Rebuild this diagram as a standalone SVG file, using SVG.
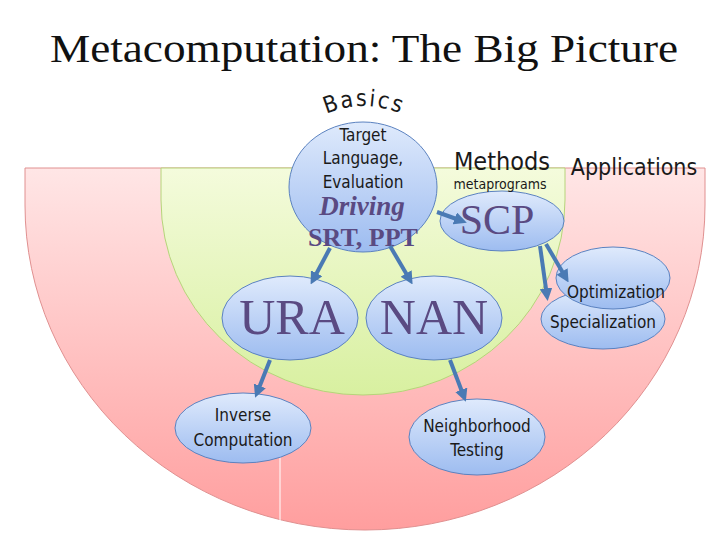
<svg xmlns="http://www.w3.org/2000/svg" width="720" height="540" viewBox="0 0 720 540">
<defs>
<linearGradient id="red" x1="0" y1="0" x2="0" y2="1"><stop offset="0" stop-color="#ffe6e6"/><stop offset="1" stop-color="#ff9e9e"/></linearGradient>
<linearGradient id="grn" x1="0" y1="0" x2="0" y2="1"><stop offset="0" stop-color="#f4fbdc"/><stop offset="1" stop-color="#d8f0a0"/></linearGradient>
<linearGradient id="blu" x1="0" y1="0" x2="0" y2="1"><stop offset="0" stop-color="#dfeafc"/><stop offset="1" stop-color="#9dbcf0"/></linearGradient>
<marker id="ah" viewBox="0 0 10 10" refX="6" refY="5" markerWidth="3.2" markerHeight="3.2" orient="auto"><path d="M0,0 L10,5 L0,10 Z" fill="#4a7ab4"/></marker>
<style>
.n{fill:url(#blu);stroke:#5b82c0;stroke-width:1}
.t{font-family:"DejaVu Sans Condensed","DejaVu Sans",sans-serif;fill:#1a1a1a;text-anchor:middle}
.b{font-family:"Liberation Serif",serif;fill:#5a4a82;text-anchor:middle}
.c line{stroke:#4a7ab4;stroke-width:4;marker-end:url(#ah)}
</style>
</defs>
<rect width="720" height="540" fill="#fff"/>
<text x="364" y="62" font-family="Liberation Serif,serif" font-size="40" text-anchor="middle" textLength="628" lengthAdjust="spacingAndGlyphs" fill="#111">Metacomputation: The Big Picture</text>
<g id="applications">
<path d="M25,168 H705 V205 A340,325 0 0 1 25,205 Z" fill="url(#red)" stroke="#e09090" stroke-width="1"/>
<line x1="280" y1="400" x2="280" y2="528" stroke="#fff" stroke-width="1"/>
<text x="634" y="175" class="t" font-size="23">Applications</text>
</g>
<g id="methods">
<path d="M161,168 H565 V200 A202,195 0 0 1 161,200 Z" fill="url(#grn)" stroke="#b6d47a" stroke-width="1"/>
<text x="502" y="170" class="t" font-size="25">Methods</text>
</g>
<g id="basics">
<ellipse cx="363" cy="187" rx="74" ry="65" class="n"/>
<path id="arc" d="M322,116 Q363,96 406,116" fill="none"/>
<text class="t" font-size="23"><textPath href="#arc" startOffset="50%" letter-spacing="2">Basics</textPath></text>
<text x="363" y="141" class="t" font-size="17">Target</text>
<text x="363" y="164" class="t" font-size="17">Language,</text>
<text x="363" y="188" class="t" font-size="17">Evaluation</text>
<text x="362" y="215" class="b" font-size="27" font-weight="bold" font-style="italic">Driving</text>
<text x="363" y="246" class="b" font-size="26" font-weight="bold">SRT, PPT</text>
</g>
<g id="scp"><ellipse cx="502" cy="221" rx="62" ry="30" class="n"/><text x="497" y="234" class="b" font-size="42">SCP</text>
<text x="500" y="189" class="t" font-size="14">metaprograms</text></g>
<g id="ura"><ellipse cx="290" cy="318" rx="68" ry="42" class="n"/><text x="292" y="334" class="b" font-size="50">URA</text></g>
<g id="nan"><ellipse cx="434" cy="318" rx="68" ry="42" class="n"/><text x="434" y="334" class="b" font-size="50">NAN</text></g>
<g id="specialization"><ellipse cx="603" cy="319" rx="62" ry="30" class="n"/><text x="603" y="328" class="t" font-size="17">Specialization</text></g>
<g id="optimization"><ellipse cx="613" cy="278" rx="57" ry="31" class="n"/><text x="616" y="298" class="t" font-size="17">Optimization</text></g>
<g id="inverse"><ellipse cx="243" cy="428" rx="68" ry="35" class="n"/><text x="243" y="421" class="t" font-size="17">Inverse</text><text x="243" y="446" class="t" font-size="17">Computation</text></g>
<g id="neighborhood"><ellipse cx="477" cy="437" rx="68" ry="38" class="n"/><text x="477" y="432" class="t" font-size="17">Neighborhood</text><text x="477" y="456" class="t" font-size="17">Testing</text></g>
<g class="c" id="connectors">
<line x1="437" y1="212" x2="462" y2="221"/>
<line x1="330" y1="248" x2="313" y2="280"/>
<line x1="390" y1="246" x2="410" y2="280"/>
<line x1="546" y1="244" x2="566" y2="278"/>
<line x1="540" y1="246" x2="547" y2="296"/>
<line x1="270" y1="360" x2="257" y2="393"/>
<line x1="450" y1="360" x2="464" y2="397"/>
</g>
</svg>
